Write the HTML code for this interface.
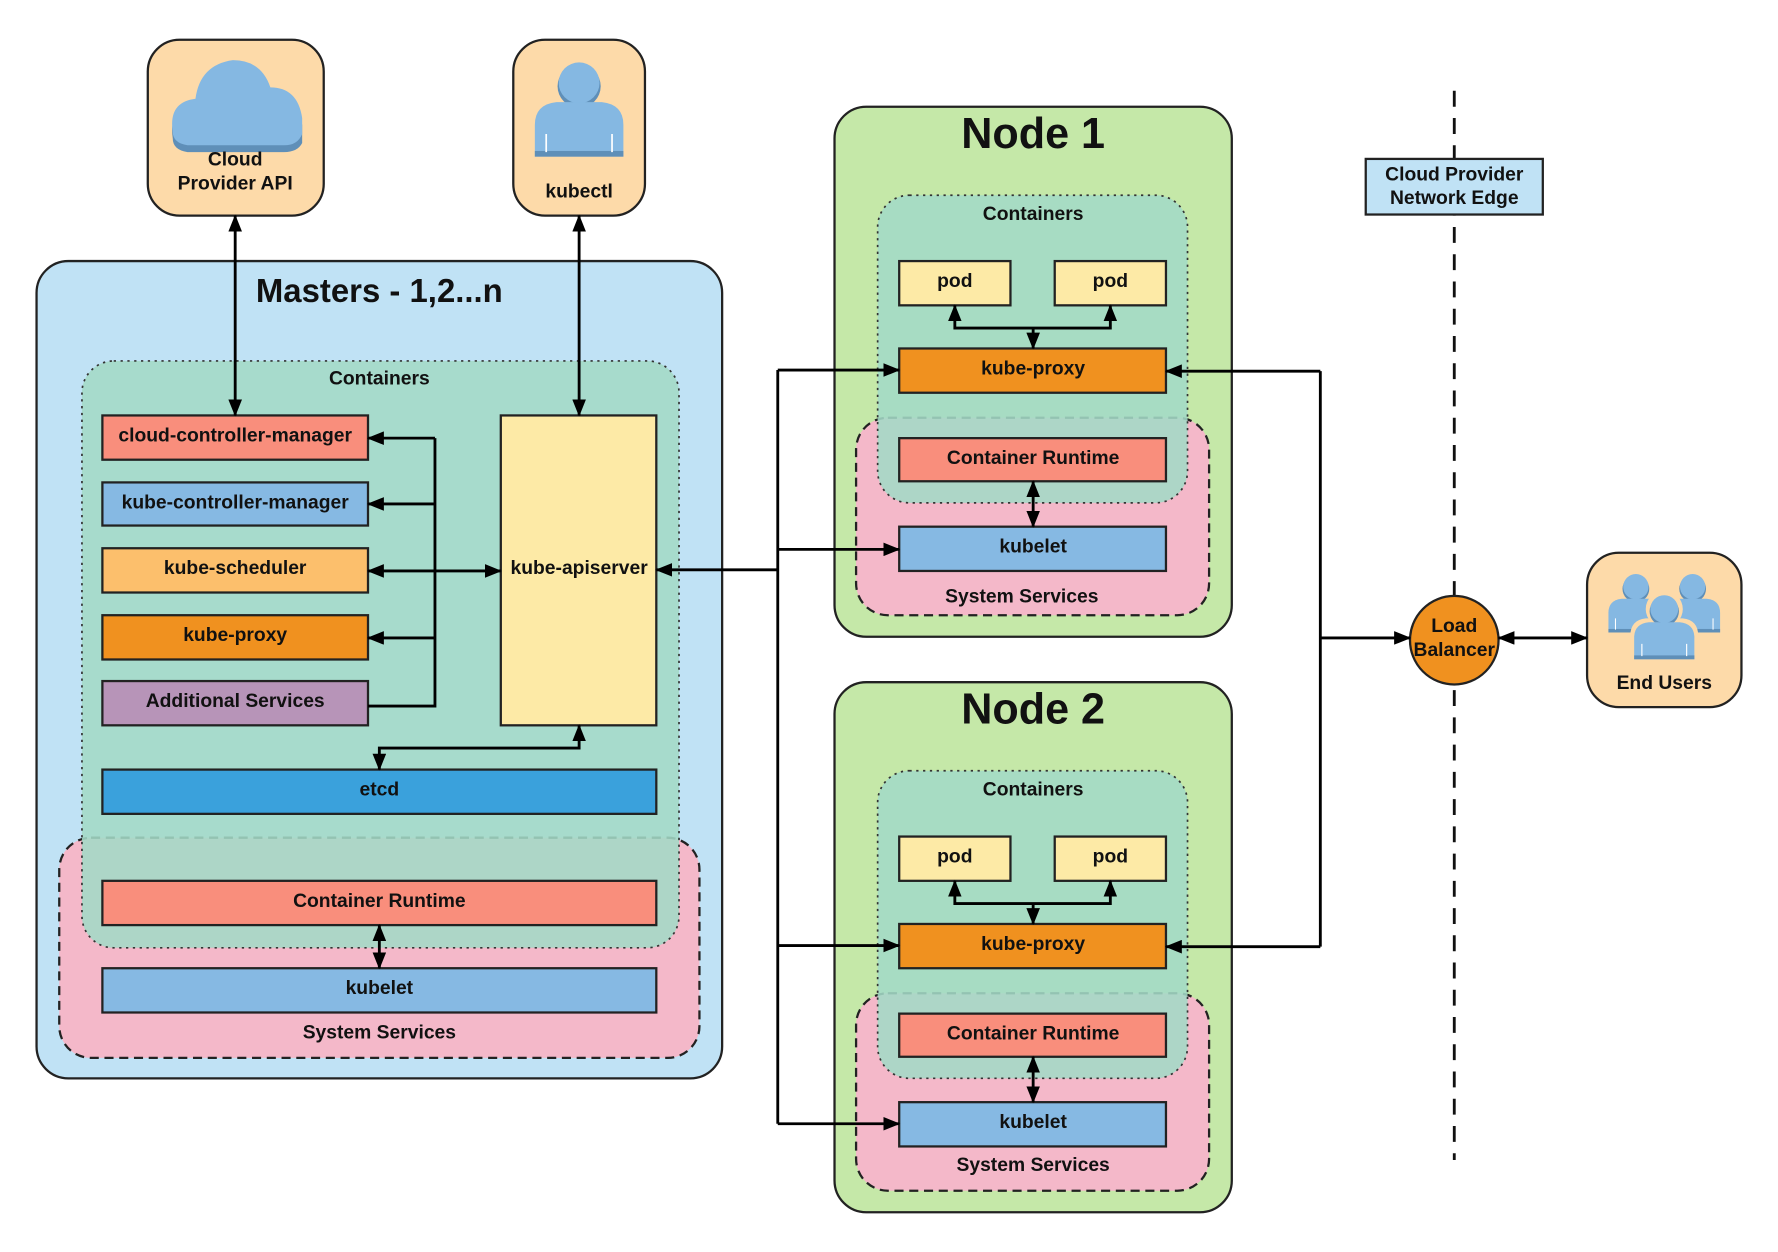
<!DOCTYPE html>
<html><head><meta charset="utf-8"><style>
html,body{margin:0;padding:0;background:#fff}
svg{display:block}
text{font-family:"Liberation Sans",Arial,sans-serif;font-weight:bold;fill:#111;text-anchor:middle;dominant-baseline:central}
</style></head><body>
<svg width="1778" height="1252" viewBox="0 0 1566 1103" xmlns="http://www.w3.org/2000/svg">
<defs>
<marker id="a" viewBox="0 0 15 12" refX="14" refY="6" markerWidth="15" markerHeight="12" orient="auto-start-reverse" markerUnits="userSpaceOnUse">
<path d="M0,0 L15,6 L0,12 z" fill="#000"/>
</marker>
<g id="person">
<circle cx="0" cy="-2" r="19" fill="#5f8fb8"/><circle cx="0" cy="-5" r="18" fill="#85b8e2"/>
<path d="M-39,60 L-39,32 Q-39,14 -20,12 L20,12 Q39,14 39,32 L39,60 z" fill="#85b8e2"/>
<rect x="-39" y="55" width="78" height="5" fill="#5f8fb8"/>
<path d="M-29,40 V56 M29,40 V56" stroke="#fff" stroke-width="1.5"/>
</g>
</defs>

<rect x="130" y="35" width="155" height="155" rx="28" fill="#fddaa9" stroke="#222" stroke-width="2"/>
<path d="M152,122 Q148,95 172,92 Q176,62 205,58 Q230,58 238,82 Q262,82 266,110 L266,126 Q262,134 250,134 L165,134 Q152,132 152,122 z" fill="#5f8fb8"/>
<path d="M152,116 Q148,90 172,87 Q176,57 205,53 Q230,53 238,77 Q262,77 266,104 L266,118 Q262,128 250,128 L165,128 Q152,126 152,116 z" fill="#85b8e2"/>
<text x="207" y="141" font-size="17">Cloud</text>
<text x="207" y="162" font-size="17">Provider API</text>

<rect x="452" y="35" width="116" height="155" rx="28" fill="#fddaa9" stroke="#222" stroke-width="2"/>
<g transform="translate(510,78)"><use href="#person"/></g>
<text x="510" y="169" font-size="17">kubectl</text>

<rect x="32" y="230" width="604" height="720" rx="28" fill="#c0e2f5" stroke="#222" stroke-width="2"/>
<text x="334" y="256" font-size="29">Masters - 1,2...n</text>
<rect x="52" y="738" width="564" height="194" rx="28" fill="#f4b8c9" stroke="#222" stroke-width="2" stroke-dasharray="8,5"/>
<rect x="72" y="318" width="526" height="517" rx="28" fill="#a3d9c6" fill-opacity="0.88" stroke="#333" stroke-width="1.5" stroke-dasharray="2,4"/>
<text x="334" y="334" font-size="17">Containers</text>
<text x="334" y="910" font-size="17">System Services</text>

<g stroke="#222" stroke-width="2">
<rect x="90" y="366" width="234" height="39" fill="#f98e7c"/>
<rect x="90" y="425" width="234" height="38" fill="#86b9e3"/>
<rect x="90" y="483" width="234" height="39" fill="#fcbf6c"/>
<rect x="90" y="542" width="234" height="39" fill="#f0911f"/>
<rect x="90" y="600" width="234" height="39" fill="#b794b8"/>
<rect x="441" y="366" width="137" height="273" fill="#fdeaa6"/>
<rect x="90" y="678" width="488" height="39" fill="#3aa1dc"/>
<rect x="90" y="776" width="488" height="39" fill="#f98e7c"/>
<rect x="90" y="853" width="488" height="39" fill="#86b9e3"/>
</g>
<text x="207" y="384" font-size="17">cloud-controller-manager</text>
<text x="207" y="443" font-size="17">kube-controller-manager</text>
<text x="207" y="501" font-size="17">kube-scheduler</text>
<text x="207" y="560" font-size="17">kube-proxy</text>
<text x="207" y="618" font-size="17">Additional Services</text>
<text x="510" y="501" font-size="17">kube-apiserver</text>
<text x="334" y="696" font-size="17">etcd</text>
<text x="334" y="794" font-size="17">Container Runtime</text>
<text x="334" y="871" font-size="17">kubelet</text>

<g id="node">
<rect x="735" y="94" width="350" height="467" rx="28" fill="#c5e8a8" stroke="#222" stroke-width="2"/>
<rect x="754" y="368" width="311" height="174" rx="28" fill="#f4b8c9" stroke="#222" stroke-width="2" stroke-dasharray="8,5"/>
<rect x="773" y="172" width="273" height="271" rx="28" fill="#a3d9c6" fill-opacity="0.88" stroke="#333" stroke-width="1.5" stroke-dasharray="2,4"/>
<text x="910" y="189" font-size="17">Containers</text>
<g stroke="#222" stroke-width="2">
<rect x="792" y="230" width="98" height="39" fill="#fdeaa6"/>
<rect x="929" y="230" width="98" height="39" fill="#fdeaa6"/>
<rect x="792" y="307" width="235" height="39" fill="#f0911f"/>
<rect x="792" y="386" width="235" height="38" fill="#f98e7c"/>
<rect x="792" y="464" width="235" height="39" fill="#86b9e3"/>
</g>
<text x="841" y="248" font-size="17">pod</text>
<text x="978" y="248" font-size="17">pod</text>
<text x="910" y="325" font-size="17">kube-proxy</text>
<text x="910" y="404" font-size="17">Container Runtime</text>
<text x="910" y="482" font-size="17">kubelet</text>
<g stroke="#000" stroke-width="2.5" fill="none">
<path d="M910,289 V307" marker-end="url(#a)"/>
<path d="M841,269 V289 H978 V269" marker-start="url(#a)" marker-end="url(#a)"/>
<path d="M910,424 V464" marker-start="url(#a)" marker-end="url(#a)"/>
</g>
</g>
<text x="910" y="118" font-size="38">Node 1</text>
<text x="900" y="526" font-size="17">System Services</text>
<g transform="translate(0,507)"><use href="#node"/></g>
<text x="910" y="625" font-size="38">Node 2</text>
<text x="910" y="1027" font-size="17">System Services</text>

<path d="M1281,80 V1022" stroke="#111" stroke-width="2.5" stroke-dasharray="14,10"/>
<rect x="1203" y="140" width="156" height="49" fill="#c0e2f5" stroke="#222" stroke-width="2"/>
<text x="1281" y="154" font-size="17">Cloud Provider</text>
<text x="1281" y="175" font-size="17">Network Edge</text>
<circle cx="1281" cy="564" r="39" fill="#f0911f" stroke="#222" stroke-width="2"/>
<text x="1281" y="552" font-size="17">Load</text>
<text x="1281" y="573" font-size="17">Balancer</text>

<rect x="1398" y="487" width="136" height="136" rx="28" fill="#fddaa9" stroke="#222" stroke-width="2"/>
<g transform="translate(1441,520) scale(0.62)"><use href="#person"/></g>
<g transform="translate(1491,520) scale(0.62)"><use href="#person"/></g>
<g transform="translate(1466,540) scale(0.68)"><circle cx="0" cy="-5" r="24" fill="#fddaa9"/><path d="M-44,62 L-44,30 Q-44,9 -24,7 L24,7 Q44,9 44,30 L44,62 z" fill="#fddaa9"/><use href="#person"/></g>
<text x="1466" y="602" font-size="17">End Users</text>

<g stroke="#000" stroke-width="2.5" fill="none">
<path d="M207,190 V366" marker-start="url(#a)" marker-end="url(#a)"/>
<path d="M510,190 V366" marker-start="url(#a)" marker-end="url(#a)"/>
<path d="M383,386 V622 H324"/>
<path d="M383,386 H324" marker-end="url(#a)"/>
<path d="M383,444 H324" marker-end="url(#a)"/>
<path d="M383,562 H324" marker-end="url(#a)"/>
<path d="M324,503 H441" marker-start="url(#a)" marker-end="url(#a)"/>
<path d="M510,639 V659 H334 V678" marker-start="url(#a)" marker-end="url(#a)"/>
<path d="M334,815 V853" marker-start="url(#a)" marker-end="url(#a)"/>
<path d="M685,502 H578" marker-end="url(#a)"/>
<path d="M685,326 V990"/>
<path d="M685,326 H792" marker-end="url(#a)"/>
<path d="M685,484 H792" marker-end="url(#a)"/>
<path d="M685,833 H792" marker-end="url(#a)"/>
<path d="M685,990 H792" marker-end="url(#a)"/>
<path d="M1163,327 V834"/>
<path d="M1163,327 H1027" marker-end="url(#a)"/>
<path d="M1163,834 H1027" marker-end="url(#a)"/>
<path d="M1163,562 H1242" marker-end="url(#a)"/>
<path d="M1320,562 H1398" marker-start="url(#a)" marker-end="url(#a)"/>
</g>
</svg>
</body></html>
